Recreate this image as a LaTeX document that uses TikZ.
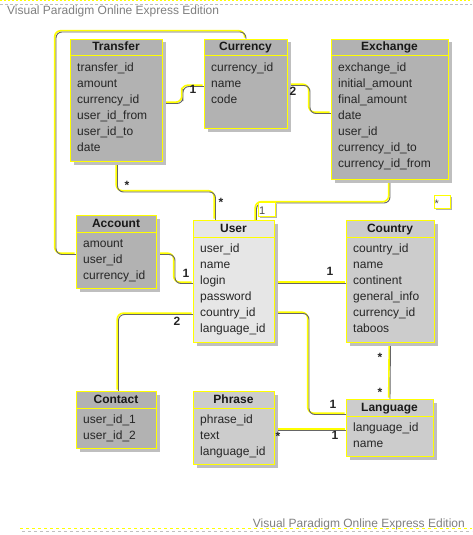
\documentclass[tikz,border=0pt]{standalone}
\usepackage{fontspec}
\setmainfont{Liberation Sans}
\usetikzlibrary{shadows}
\definecolor{dkfill}{HTML}{B2B2B2}
\definecolor{mdfill}{HTML}{CCCCCC}
\definecolor{ltfill}{HTML}{E6E6E6}
\definecolor{ylw}{HTML}{FFFF00}
\pgfdeclarelayer{bg}
\pgfsetlayers{bg,main}
\tikzset{
  clsbox/.style={draw=ylw, line width=1pt, inner sep=0pt,
    drop shadow={shadow xshift=3pt,shadow yshift=-3pt,fill=black!25,opacity=1}},
  hdrtxt/.style={font=\bfseries\fontsize{12}{14}\selectfont, inner sep=0pt, anchor=base, text=black!90},
  rowtxt/.style={font=\fontsize{12}{14}\selectfont, inner sep=0pt, anchor=base west, text=black!85},
  mult/.style={font=\bfseries\fontsize{12}{14}\selectfont, inner sep=0pt, anchor=base, text=black!85},
  ylwline/.style={draw=ylw, line width=1.6pt, rounded corners=6pt,
    transform canvas={xshift=-1.3pt,yshift=1.3pt}},
  gryline/.style={draw=black!60, line width=0.9pt, rounded corners=6pt},
  brand/.style={font=\fontsize{12}{14}\selectfont, inner sep=0pt, text=black!50},
  smallbox/.style={draw=ylw, line width=0.8pt, inner sep=0pt, fill=white,
    drop shadow={shadow xshift=1.5pt,shadow yshift=-1.5pt,fill=black!30,opacity=1}},
  smalltxt/.style={font=\fontsize{11}{13}\selectfont, inner sep=0pt, anchor=base west, text=black!70}
}
% #1 name, #2 title, #3 x1, #4 y1, #5 x2, #6 y2, #7 header bottom, #8 fill, #9 rows
\newcommand\umlcls[9]{%
  \pgfmathsetmacro\clsW{#5-#3}\pgfmathsetmacro\clsH{#6-#4}%
  \node[clsbox, fill=#8, minimum width=\clsW pt, minimum height=\clsH pt, anchor=north west] (#1) at (#3,#4) {};
  \draw[draw=ylw, line width=1pt] (#3,#7) -- (#5,#7);
  \node[hdrtxt] (#1-title) at ({(#3+#5)/2},#4+12) {#2};
  \foreach \rowt [count=\ri from 0] in {#9} {
    \node[rowtxt] (#1-row\ri) at (#3+7, #7+15+16*\ri) {\rowt};
  }
}
\newcommand\conn[1]{\draw[ylwline] #1; \draw[gryline] #1;}
\begin{document}
\begin{tikzpicture}[x=1pt,y=-1pt]
\useasboundingbox (0,0) rectangle (472,535);

% header / footer
\draw[ylw, line width=1.2pt, dash pattern=on 2pt off 2pt] (0,0.8) -- (472,0.8);
\draw[black!25, line width=0.8pt, dash pattern=on 3pt off 2pt] (0,4) -- (472,4);
\node[brand, anchor=base west] (brandtop) at (7,15) {Visual Paradigm Online Express Edition};
\draw[ylw, line width=1.2pt, dash pattern=on 3pt off 3pt] (20,528.5) -- (472,528.5);
\draw[black!25, line width=0.8pt, dash pattern=on 3pt off 3pt] (22,531.5) -- (472,531.5);
\node[brand, anchor=base east] (brandbot) at (465,527) {Visual Paradigm Online Express Edition};

% classes
\umlcls{transfer}{Transfer}{70}{39}{162}{161}{56}{dkfill}{transfer\_id,amount,currency\_id,user\_id\_from,user\_id\_to,date}
\umlcls{currency}{Currency}{204}{39}{287}{128}{56}{dkfill}{currency\_id,name,code}
\umlcls{exchange}{Exchange}{331}{39}{448}{179}{56}{dkfill}{exchange\_id,initial\_amount,final\_amount,date,user\_id,currency\_id\_to,currency\_id\_from}
\umlcls{account}{Account}{76}{215}{156}{288}{232}{dkfill}{amount,user\_id,currency\_id}
\umlcls{user}{User}{193}{220}{274}{342}{237}{ltfill}{user\_id,name,login,password,country\_id,language\_id}
\umlcls{country}{Country}{346}{220}{434}{342}{237}{mdfill}{country\_id,name,continent,general\_info,currency\_id,taboos}
\umlcls{contact}{Contact}{76}{391}{156}{448}{408}{dkfill}{user\_id\_1,user\_id\_2}
\umlcls{phrase}{Phrase}{193}{391}{274}{464}{408}{mdfill}{phrase\_id,text,language\_id}
\umlcls{language}{Language}{346}{399}{433}{456}{416}{mdfill}{language\_id,name}

% connectors
\begin{pgfonlayer}{bg}
\fill[white] (0,0) rectangle (472,535);
\conn{([yshift=-2.5pt]account.west) -| (56,32) -| (currency.north)}
\conn{([yshift=-3pt]transfer.east) -| (183,95) |- ([yshift=-2.5pt]currency.west)}
\conn{([yshift=-1.5pt]currency.east) -| (310,100) |- ([yshift=-4pt]exchange.west)}
\conn{([xshift=1pt]transfer.south) |- (180,192) -| ([xshift=-18.5pt]user.north)}
\conn{(exchange.south) |- (300,203) -| ([xshift=22.5pt,yshift=-3pt]user.north)}
\conn{([yshift=-2.5pt]account.east) -| (175,270) |- ([yshift=-2pt]user.west)}
\conn{([yshift=-2pt]user.east) -- ([yshift=-2pt]country.west)}
\conn{([yshift=-33pt]user.west) -| ([xshift=2pt]contact.north)}
\conn{([yshift=-32pt]user.east) -| (309,360) |- ([yshift=13.5pt]language.west)}
\conn{(country.south) -- (language.north)}
\conn{([yshift=-2.5pt]phrase.east) -- ([yshift=-2.5pt]language.west)}
\end{pgfonlayer}

% multiplicities
\node[mult] (m1) at (193,93) {1};
\node[mult] (m2) at (293,95) {2};
\node[mult] (m3) at (127,189) {*};
\node[mult] (m4) at (221,206) {*};
\node[mult] (m5) at (186,277) {1};
\node[mult] (m6) at (330,275) {1};
\node[mult] (m7) at (177,325) {2};
\node[mult] (m8) at (333,408) {1};
\node[mult] (m9) at (380,361) {*};
\node[mult] (m10) at (380,396) {*};
\node[mult] (m11) at (278,440) {*};
\node[mult] (m12) at (335,439) {1};

% boxed labels
\node[smallbox, minimum width=17pt, minimum height=14pt] (bx1) at (266.5,209) {};
\node[smalltxt] (bx1t) at (259,214) {1};
\node[smallbox, minimum width=16pt, minimum height=13pt] (bx2) at (442,201.5) {};
\node[smalltxt] (bx2t) at (434.5,207) {*};
\end{tikzpicture}
\end{document}
